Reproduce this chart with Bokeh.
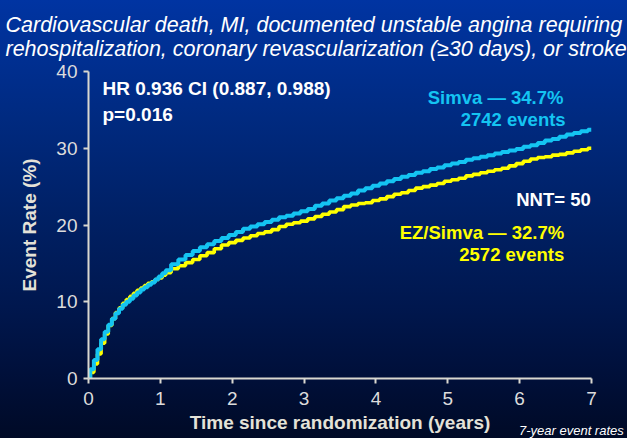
from bokeh.plotting import figure
from bokeh.models import Range1d, Label, FixedTicker, Div
from bokeh.layouts import column
from bokeh.embed import file_html
from bokeh.resources import INLINE

# ---------------- data ----------------
years = [0.0, 0.05, 0.1, 0.15, 0.2, 0.25, 0.3, 0.35, 0.4, 0.45,
         0.5, 0.55, 0.6, 0.65, 0.7, 0.75, 0.8, 0.85, 0.9, 0.95,
         1.0, 1.05, 1.1, 1.2, 1.3, 1.4, 1.5, 1.6, 1.7, 1.8, 1.9,
         2.0, 2.1, 2.2, 2.3, 2.4, 2.5, 2.6, 2.7, 2.8, 2.9,
         3.0, 3.1, 3.2, 3.3, 3.4, 3.5, 3.6, 3.7, 3.8, 3.9,
         4.0, 4.1, 4.2, 4.3, 4.4, 4.5, 4.6, 4.7, 4.8, 4.9,
         5.0, 5.1, 5.2, 5.3, 5.4, 5.5, 5.6, 5.7, 5.8, 5.9,
         6.0, 6.1, 6.2, 6.3, 6.4, 6.5, 6.6, 6.7, 6.8, 6.9,
         7.0]

simva = [0.0, 1.2, 2.4, 3.8, 5.1, 6.1, 7.0, 7.8, 8.5, 9.1,
         9.6, 10.0, 10.4, 10.8, 11.2, 11.6, 11.9, 12.2, 12.5, 12.9,
         13.3, 13.7, 14.1, 14.9, 15.5, 16.1, 16.6, 17.1, 17.5, 17.9, 18.3,
         18.7, 19.1, 19.5, 19.8, 20.1, 20.4, 20.7, 21.0, 21.2, 21.5,
         21.8, 22.1, 22.5, 22.8, 23.2, 23.5, 23.8, 24.1, 24.5, 24.8,
         25.1, 25.4, 25.7, 26.0, 26.3, 26.5, 26.8, 27.0, 27.3, 27.5,
         27.8, 28.0, 28.2, 28.5, 28.7, 28.9, 29.1, 29.3, 29.5, 29.7,
         29.9, 30.2, 30.4, 30.7, 31.0, 31.2, 31.5, 31.8, 32.0, 32.2,
         32.4]

ez_simva = [0.0, 0.8, 1.9, 3.2, 4.6, 5.8, 6.9, 7.8, 8.6, 9.2,
            9.8, 10.3, 10.7, 11.1, 11.5, 11.8, 12.1, 12.4, 12.6, 12.9,
            13.1, 13.45, 13.8, 14.3, 14.7, 15.1, 15.5, 16.0, 16.4, 16.9, 17.4,
            17.7, 18.0, 18.3, 18.6, 18.9, 19.1, 19.4, 19.8, 20.1, 20.3,
            20.5, 20.8, 21.1, 21.4, 21.7, 22.0, 22.4, 22.6, 22.8, 22.9,
            23.2, 23.4, 23.7, 24.0, 24.2, 24.5, 24.8, 25.0, 25.2, 25.4,
            25.7, 25.9, 26.1, 26.4, 26.6, 26.8, 27.0, 27.2, 27.4, 27.7,
            28.0, 28.3, 28.6, 28.8, 28.9, 29.1, 29.2, 29.4, 29.6, 29.8,
            30.0]

x_ticks = [0, 1, 2, 3, 4, 5, 6, 7]
y_ticks = [0, 10, 20, 30, 40]

title_lines = ["Cardiovascular death, MI, documented unstable angina requiring",
               "rehospitalization, coronary revascularization (\u226530 days), or stroke"]
x_label = "Time since randomization (years)"
y_label = "Event Rate (%)"
stats_lines = ["HR 0.936 CI (0.887, 0.988)", "p=0.016"]
simva_lines = ["Simva \u2014 34.7%", "2742 events"]
ez_lines = ["EZ/Simva \u2014 32.7%", "2572 events"]
nnt_text = "NNT= 50"
footnote = "7-year event rates"

# ---------------- styles ----------------
CYAN = "#14C4F2"
YELLOW = "#FFFF00"
AXIS = "#D9D8D0"
FONT = "Liberation Sans"

p = figure(width=627, height=438, output_backend="svg", toolbar_location=None,
           x_range=Range1d(0, 7), y_range=Range1d(0, 40),
           min_border_left=88, min_border_right=36,
           min_border_top=70, min_border_bottom=60)

p.background_fill_color = None
p.border_fill_color = None
p.outline_line_color = None
p.xgrid.visible = False
p.ygrid.visible = False

# two-line italic title
p.title.text = title_lines[0] + "\n" + title_lines[1]
p.title.text_color = "white"
p.title.text_font = FONT
p.title.text_font_size = "21.5px"
p.title.text_font_style = "italic"
p.title.text_line_height = 1.0
p.title.align = "left"
p.title.offset = -83
p.title.standoff = 21

for ax, ticks in ((p.xaxis, x_ticks), (p.yaxis, y_ticks)):
    ax.ticker = FixedTicker(ticks=ticks)
    ax.axis_line_color = AXIS
    ax.axis_line_width = 2
    ax.major_tick_line_color = AXIS
    ax.major_tick_line_width = 2
    ax.major_tick_out = 5
    ax.major_tick_in = 0
    ax.minor_tick_line_color = None
    ax.major_label_text_color = "#DCDCDC"
    ax.major_label_text_font = FONT
    ax.major_label_text_font_size = "19px"
    ax.axis_label_text_color = "#E4E2D8"
    ax.axis_label_text_font = FONT
    ax.axis_label_text_font_size = "19px"
    ax.axis_label_text_font_style = "bold"

p.xaxis.axis_label = x_label
p.yaxis.axis_label = y_label
p.xaxis.major_label_standoff = 8
p.yaxis.major_label_standoff = 6
p.xaxis.axis_label_standoff = 4
p.yaxis.axis_label_standoff = 13

p.step(years, ez_simva, mode="center", line_color=YELLOW, line_width=3.6)
p.step(years, simva, mode="center", line_color=CYAN, line_width=4)

def add_label(x, y, text, color, size, style="bold", align="left"):
    p.add_layout(Label(x=x, y=y, text=text,
                       text_color=color, text_font=FONT,
                       text_font_size=size, text_font_style=style,
                       text_align=align, text_baseline="alphabetic"))

# stats
add_label(0.195, 37.8, stats_lines[0], "white", "19px")
add_label(0.195, 34.4, stats_lines[1], "white", "19px")

# series annotations
add_label(6.61, 36.6, simva_lines[0], CYAN, "18.5px", align="right")
add_label(6.64, 33.7, simva_lines[1], CYAN, "18.5px", align="right")
add_label(6.99, 23.3, nnt_text, "white", "18.5px", align="right")
add_label(6.62, 19.0, ez_lines[0], YELLOW, "18.5px", align="right")
add_label(6.62, 16.2, ez_lines[1], YELLOW, "18.5px", align="right")

# footnote below the frame (labels are clipped to the frame, so use a Div
# pulled up over the bottom edge of the figure)
note = Div(text=footnote, width=106, height=13, margin=(-14, 0, 0, 519),
           styles={"color": "white", "font-family": FONT, "font-style": "italic",
                   "font-size": "13px", "line-height": "13px",
                   "white-space": "nowrap"})

layout = column(p, note, spacing=0)

html = file_html(layout, INLINE, title="Event rate")
css = ("<style>html{min-height:100%;background:linear-gradient(180deg,"
       "#0034a2 0%,#002a80 27%,#002064 50%,#00174e 70%,#000f38 87%,#000a26 100%);}"
       "body{background:transparent;overflow:hidden;}</style>")
html = html.replace("</head>", css + "</head>", 1)
open("out.html", "w").write(html)
